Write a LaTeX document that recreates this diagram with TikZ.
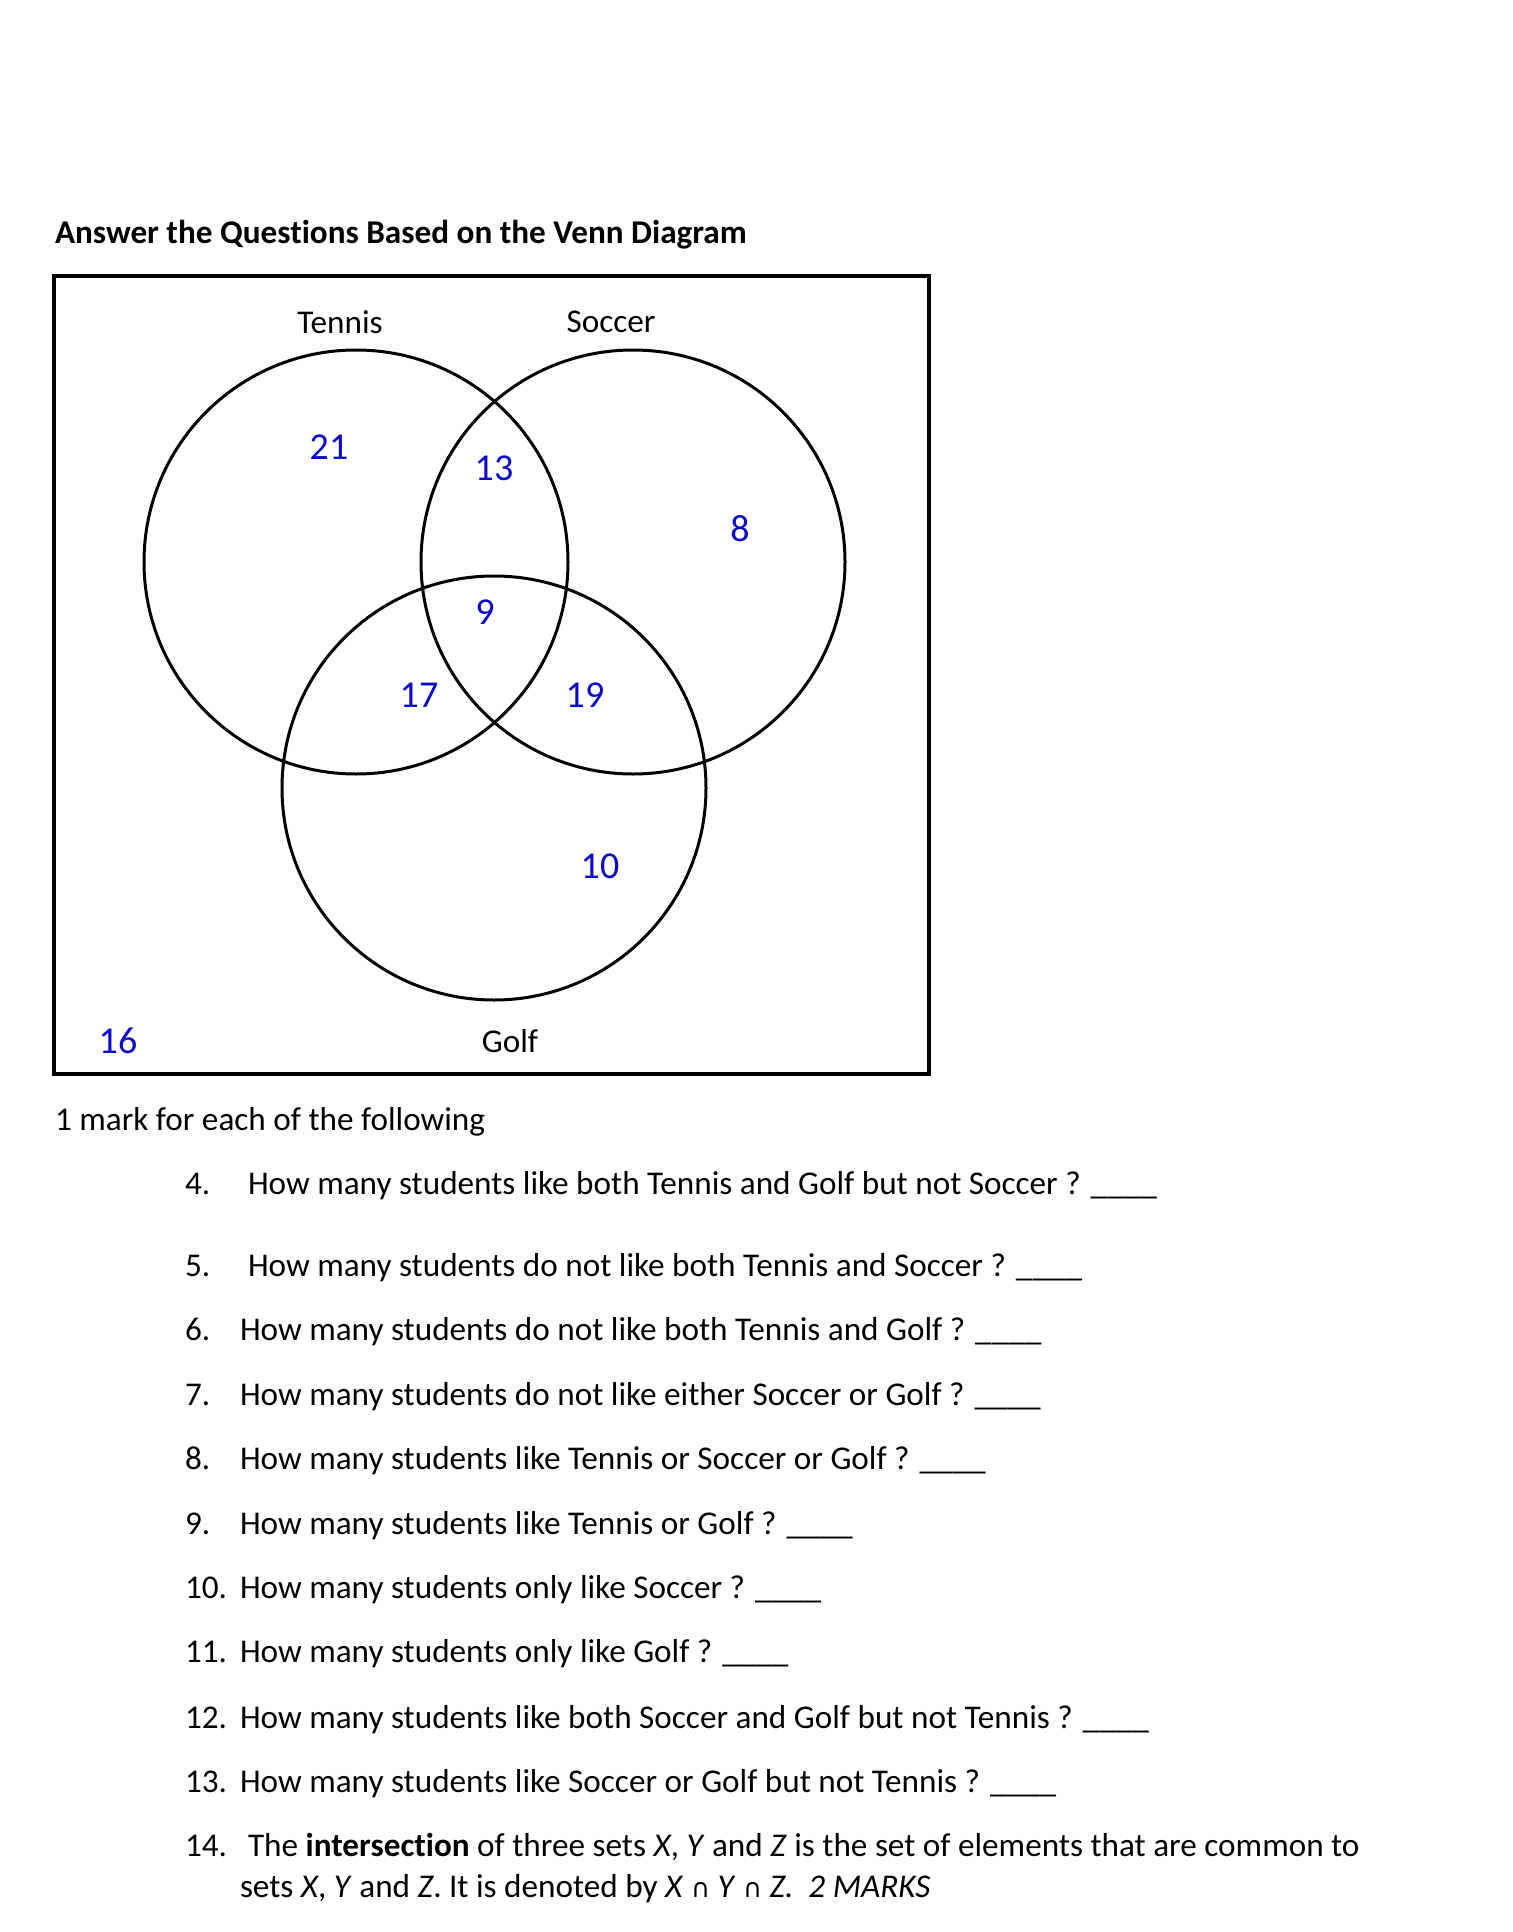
\documentclass[tikz,border=0pt]{standalone}
\usepackage{fontspec}
\setmainfont{Carlito}[Ligatures={NoCommon}]
\newfontfamily\symfont{DejaVu Sans}
\definecolor{numblue}{RGB}{10,10,200}
\begin{document}
\begin{tikzpicture}[x=0.5pt,y=-0.5pt,
  every node/.style={inner sep=0pt,outer sep=0pt,font=\fontsize{16.6}{20}\selectfont},
  setc/.style={draw=black,line width=1.5pt},
  num/.style={text=numblue,anchor=center,font=\fontsize{19}{22}\selectfont},
  lab/.style={anchor=center},
  qtext/.style={anchor=base west},
]
\useasboundingbox[fill=white] (0,0) rectangle (1513,1932);
% title
\node[qtext,font=\fontsize{16.6}{20}\bfseries] (title) at (55,243) {Answer the Questions Based on the Venn Diagram};
% box
\draw[line width=2pt] (54,276) rectangle (929,1074);
% circles
\draw[setc] (356,562) circle (212);
\draw[setc] (633,562) circle (212);
\draw[setc] (494,788) circle (212);
% labels
\node[lab] (tennis) at (340,322) {Tennis};
\node[lab] (soccer) at (611,322) {Soccer};
\node[lab] (golf) at (510,1041) {Golf};
% numbers
\node[num] (n16) at (118,1041) {16};
\node[num] (n21) at (329,447) {21};
\node[num] (n13) at (494,468) {13};
\node[num] (n8) at (740,529) {8};
\node[num] (n9) at (485,612) {9};
\node[num] (n17) at (419,695) {17};
\node[num] (n19) at (585,695) {19};
\node[num] (n10) at (600,866) {10};
% questions
\node[qtext] (mark) at (55,1130) {1 mark for each of the following};
\node[qtext] (q4n) at (185,1194) {4.};
\node[qtext] (q4) at (248,1194) {How many students like both Tennis and Golf but not Soccer ? \_\_\_\_};
\node[qtext] (q5n) at (185,1276) {5.};
\node[qtext] (q5) at (248,1276) {How many students do not like both Tennis and Soccer ? \_\_\_\_};
\node[qtext] (q6n) at (185,1340) {6.};
\node[qtext] (q6) at (240,1340) {How many students do not like both Tennis and Golf ? \_\_\_\_};
\node[qtext] (q7n) at (185,1405) {7.};
\node[qtext] (q7) at (240,1405) {How many students do not like either Soccer or Golf ? \_\_\_\_};
\node[qtext] (q8n) at (185,1469) {8.};
\node[qtext] (q8) at (240,1469) {How many students like Tennis or Soccer or Golf ? \_\_\_\_};
\node[qtext] (q9n) at (185,1534) {9.};
\node[qtext] (q9) at (240,1534) {How many students like Tennis or Golf ? \_\_\_\_};
\node[qtext] (q10n) at (185,1598) {10.};
\node[qtext] (q10) at (240,1598) {How many students only like Soccer ? \_\_\_\_};
\node[qtext] (q11n) at (185,1662) {11.};
\node[qtext] (q11) at (240,1662) {How many students only like Golf ? \_\_\_\_};
\node[qtext] (q12n) at (185,1728) {12.};
\node[qtext] (q12) at (240,1728) {How many students like both Soccer and Golf but not Tennis ? \_\_\_\_};
\node[qtext] (q13n) at (185,1792) {13.};
\node[qtext] (q13) at (240,1792) {How many students like Soccer or Golf but not Tennis ? \_\_\_\_};
\node[qtext] (q14n) at (185,1856) {14.};
\node[qtext] (q14) at (248,1856) {The \textbf{intersection} of three sets \textit{X}, \textit{Y} and \textit{Z} is the set of elements that are common to};
\node[qtext] (q14b) at (240,1897) {sets \textit{X}, \textit{Y} and \textit{Z}. It is denoted by \textit{X} {\symfont\fontsize{13}{15}\selectfont ∩} \textit{Y} {\symfont\fontsize{13}{15}\selectfont ∩} \textit{Z.}~~\textit{2 MARKS}};
\end{tikzpicture}
\end{document}
